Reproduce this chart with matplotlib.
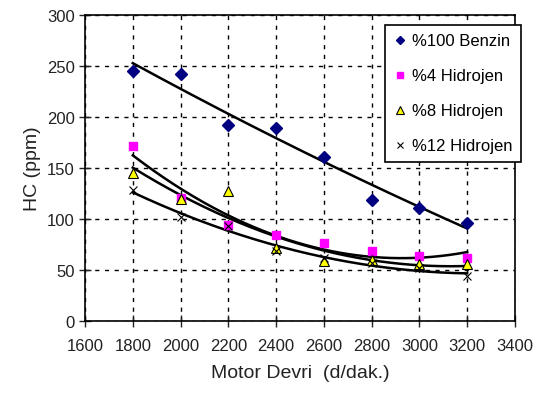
import matplotlib
matplotlib.use("Agg")
import matplotlib.pyplot as plt
import numpy as np

plt.rcParams['font.family'] = ['Liberation Sans', 'DejaVu Sans']

devir = [1800, 2000, 2200, 2400, 2600, 2800, 3000, 3200]
benzin = [245, 242, 192, 189, 161, 119, 111, 96]
h4 = [172, 121, 94, 84, 76, 69, 64, 62]
h8 = [145, 120, 127, 72, 59, 60, 56, 56]
h12 = [128, 102, 93, 69, 62, 57, 52, 44]

seriler = [
    ("%100 Benzin", benzin, dict(marker='D', color='#000080', markersize=6, markeredgecolor='#000080')),
    ("%4 Hidrojen", h4, dict(marker='s', color='#FF00FF', markersize=6, markeredgecolor='#FF00FF')),
    ("%8 Hidrojen", h8, dict(marker='^', color='#FFFF00', markersize=7, markeredgecolor='black', markeredgewidth=0.8)),
    ("%12 Hidrojen", h12, dict(marker='x', color='black', markersize=6, markeredgewidth=0.8)),
]

fig = plt.figure(figsize=(5.33, 4.10), dpi=100)
ax = fig.add_axes([0.1595, 0.2146, 0.8065, 0.7464])

x = np.array(devir)
xx = np.linspace(1800, 3200, 200)
for ad, y, st in seriler:
    ax.plot(x, y, linestyle='none', label=ad, zorder=3, **st)
    # 2. dereceden egilim cizgisi
    k = np.polyfit(x, y, 2)
    ax.plot(xx, np.polyval(k, xx), color='black', lw=1.8, zorder=2)

ax.set_xlim(1600, 3400)
ax.set_ylim(0, 300)
ax.set_xticks(range(1600, 3401, 200))
ax.set_yticks(range(0, 301, 50))
ax.grid(True, color='black', linestyle=(0, (3, 4)), linewidth=1)
ax.tick_params(direction='inout', length=8, labelsize=12, width=1, colors='#222222')
ax.tick_params(axis='x', pad=8)
for s in ax.spines.values():
    s.set_linewidth(1.2)

ax.set_xlabel("Motor Devri  (d/dak.)", fontsize=14, labelpad=8, color='#222222')
ax.set_ylabel("HC (ppm)", fontsize=14, labelpad=4, color='#222222')

leg = ax.legend(loc='upper right', bbox_to_anchor=(1.014, 0.967), borderaxespad=0,
                fontsize=12, frameon=True, fancybox=False, edgecolor='black', framealpha=1,
                handlelength=0.7, handletextpad=0.4, labelspacing=1.2, borderpad=0.5,
                markerscale=0.75)
leg.get_frame().set_linewidth(1.2)

fig.savefig("out.png", dpi=100)
